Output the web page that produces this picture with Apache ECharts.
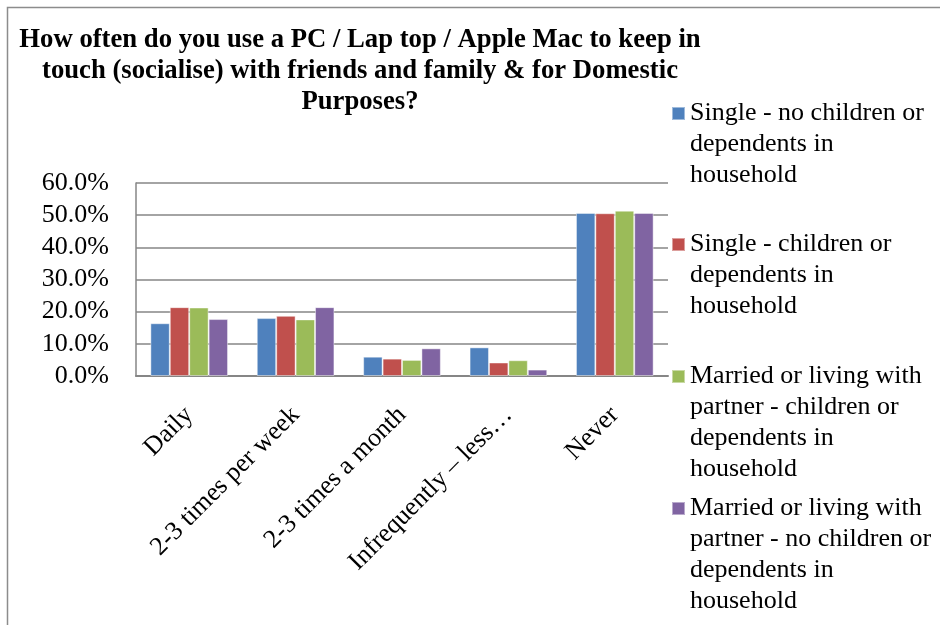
<!DOCTYPE html>
<html>
<head>
<meta charset="utf-8">
<script src="https://cdn.jsdelivr.net/npm/echarts@6/dist/echarts.min.js"></script>
<style>
  html, body { margin: 0; padding: 0; background: #ffffff; }
  #chart { width: 940px; height: 625px; }
</style>
</head>
<body>
<div id="chart"></div>
<script>
// Frequency categories along the x axis
const categories = ['Daily', '2-3 times per week', '2-3 times a month', 'Infrequently \u2013 less\u2026', 'Never'];

// Household groups (series names) and their wrapped legend labels
const seriesNames = [
  'Single - no children or dependents in household',
  'Single - children or dependents in household',
  'Married or living with partner - children or dependents in household',
  'Married or living with partner - no children or dependents in household'
];
const legendLabels = [
  'Single - no children or\ndependents in\nhousehold',
  'Single - children or\ndependents in\nhousehold',
  'Married or living with\npartner - children or\ndependents in\nhousehold',
  'Married or living with\npartner - no children or\ndependents in\nhousehold'
];

// Percent of respondents per frequency
const singleNoChildren   = [16.4, 18.0, 6.0, 8.9, 50.7];
const singleChildren     = [21.4, 18.7, 5.4, 4.2, 50.6];
const marriedChildren    = [21.3, 17.6, 5.0, 4.9, 51.4];
const marriedNoChildren  = [17.7, 21.4, 8.6, 2.0, 50.7];

// Value axis range and step (percent)
const yMin = 0;
const yMax = 60;
const yStep = 10;

const seriesData = [singleNoChildren, singleChildren, marriedChildren, marriedNoChildren];
const colors = ['#4F81BD', '#C0504D', '#9BBB59', '#8064A2'];

const FONT = '"Liberation Serif", "Times New Roman", serif';
const LINE_H = 31;

// One legend block per series; blank lines above the label keep the swatch
// level with the first text line (the text block is centred on the swatch).
const legendTops = [36, 167, 268, 400];
const legends = seriesNames.map((name, i) => {
  const lines = legendLabels[i].split('\n').length;
  const padded = '\n'.repeat(lines - 1) + legendLabels[i];
  return {
    orient: 'vertical',
    left: 671,
    top: legendTops[i],
    padding: 0,
    itemWidth: 13,
    itemHeight: 13,
    icon: 'rect',
    data: [name],
    formatter: () => padded,
    textStyle: {
      fontFamily: FONT,
      fontSize: 26,
      lineHeight: LINE_H,
      color: '#000000'
    }
  };
});

const chart = echarts.init(document.getElementById('chart'), null, { renderer: 'canvas' });

chart.setOption({
  backgroundColor: '#ffffff',
  animation: false,
  color: colors,
  title: {
    text: 'How often do you use a PC / Lap top / Apple Mac to keep in\ntouch (socialise) with friends and family & for Domestic\nPurposes?',
    left: 355,
    top: 20,
    textAlign: 'center',
    textStyle: {
      fontFamily: FONT,
      fontWeight: 'bold',
      fontSize: 26.7,
      lineHeight: 31,
      color: '#000000'
    }
  },
  legend: legends,
  graphic: [{
    type: 'rect',
    shape: { x: 7.5, y: 7.5, width: 1000, height: 1000 },
    style: { fill: 'none', stroke: '#8c8c8c', lineWidth: 1.5 },
    silent: true,
    z: -1
  }],
  grid: {
    left: 136,
    right: 272,
    top: 183,
    bottom: 249,
    containLabel: false
  },
  xAxis: {
    type: 'category',
    data: categories,
    axisLine: { show: true, lineStyle: { color: '#868686', width: 2 } },
    axisTick: { show: false },
    axisLabel: {
      interval: 0,
      rotate: 45,
      margin: 35,
      fontFamily: FONT,
      fontSize: 26,
      color: '#000000'
    }
  },
  yAxis: {
    type: 'value',
    min: yMin,
    max: yMax,
    interval: yStep,
    axisLine: { show: true, lineStyle: { color: '#868686', width: 1.5 } },
    axisTick: { show: false },
    splitLine: { show: true, lineStyle: { color: '#868686', width: 1.5 } },
    axisLabel: {
      margin: 27,
      fontFamily: FONT,
      fontSize: 26,
      color: '#000000',
      formatter: v => v.toFixed(1) + '%'
    }
  },
  series: seriesNames.map((name, i) => ({
    name: name,
    type: 'bar',
    data: seriesData[i],
    barGap: '0%',
    barCategoryGap: '27%',
    itemStyle: {
      color: colors[i],
      borderColor: 'rgba(255,255,255,0.45)',
      borderWidth: 1
    }
  }))
});
</script>
</body>
</html>
